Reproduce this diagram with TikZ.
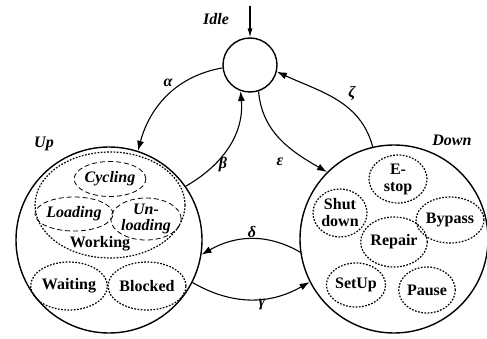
\documentclass[tikz,border=0pt]{standalone}
\usepackage{fontspec}
\setmainfont{Liberation Serif}
\usetikzlibrary{
arrows.meta,
positioning,
shapes.geometric
}

\begin{document}
\begin{tikzpicture}[
x=1pt, y=-1pt,
font=\fontsize{16}{17}\selectfont\bfseries,
state/.style={
circle,
draw,
line width=1.4pt,
inner sep=0pt
},
sub/.style={
ellipse,
draw,
dash pattern=on 1.7pt off 1.5pt,
line width=1.2pt,
inner sep=0pt,
align=center
},
subdash/.style={
ellipse,
draw,
dash pattern=on 5pt off 3pt,
line width=0.8pt,
inner sep=0pt,
align=center
},
lbl/.style={font=\fontsize{16}{17}\selectfont\bfseries\itshape},
arrow/.style={-{Latex[length=10pt,width=7pt]},line width=1.1pt}
]
\useasboundingbox (0,0) rectangle (487,339);

% states
\node[state, minimum size=54pt] (idle) at (250,65) {};
\node[state, minimum size=186pt] (up) at (109,240) {};
\node[state, minimum size=188pt] (down) at (394,239) {};

\node[lbl] (idlelbl) at (216,19) {Idle};
\node[lbl] (uplbl) at (44,144) {Up};
\node[lbl] (downlbl) at (452,140) {Down};

% inside Up
\node[sub, minimum width=150pt, minimum height=106pt] (working) at (110,205) {};
\node (worklbl) at (100,244) {Working};
\node[subdash, lbl, minimum width=62pt, minimum height=35pt] (cycling) at (110,179) {Cycling};
\node[subdash, lbl, minimum width=66pt, minimum height=34pt] (loading) at (74,214) {Loading};
\node[subdash, lbl, minimum width=66pt, minimum height=42pt, font=\fontsize{16}{15.5}\selectfont\bfseries\itshape] (unloading) at (146,219) {Un-\\loading};
\node[sub, minimum width=62pt, minimum height=48pt] (waiting) at (69,286) {Waiting};
\node[sub, minimum width=74pt, minimum height=48pt] (blocked) at (147,286) {Blocked};

% inside Down
\node[sub, minimum width=58pt, minimum height=48pt] (estop) at (398,179) {E-\\stop};
\node[sub, minimum width=54pt, minimum height=48pt] (shutdown) at (340,213) {Shut\\down};
\node[sub, minimum width=62pt, minimum height=46pt] (bypass) at (450,220) {Bypass};
\node[sub, minimum width=58pt, minimum height=50pt] (repair) at (394,242) {Repair};
\node[sub, minimum width=54pt, minimum height=44pt] (setup) at (356,285) {SetUp};
\node[sub, minimum width=52pt, minimum height=46pt] (pause) at (427,290) {Pause};

% transitions
\coordinate (init) at (250,6);
\draw[arrow, -{Latex[length=9pt,width=5pt]}] (init) -- (idle);

\draw[arrow] (idle.186) to[out=190, in=75] (up.72);
\draw[arrow] (up.35) to[out=30, in=-85] (idle.250);
\draw[arrow] (idle.288) to[out=-85, in=150] (down.135);
\draw[arrow] (down.103) to[out=105, in=-25] (idle.-14);
\draw[arrow] (down.188) to[out=150, in=30] (up.-9);
\draw[arrow] (up.-27) to[out=-30, in=210] (down.207);

\node[lbl] (alpha) at (168,83) {α};
\node[lbl] (beta) at (223,165) {β};
\node[lbl] (eps) at (280,162) {ε};
\node[lbl] (zeta) at (352,93) {ζ};
\node[lbl] (delta) at (252,232) {δ};
\node[lbl] (gamma) at (262,305) {γ};

\end{tikzpicture}
\end{document}
